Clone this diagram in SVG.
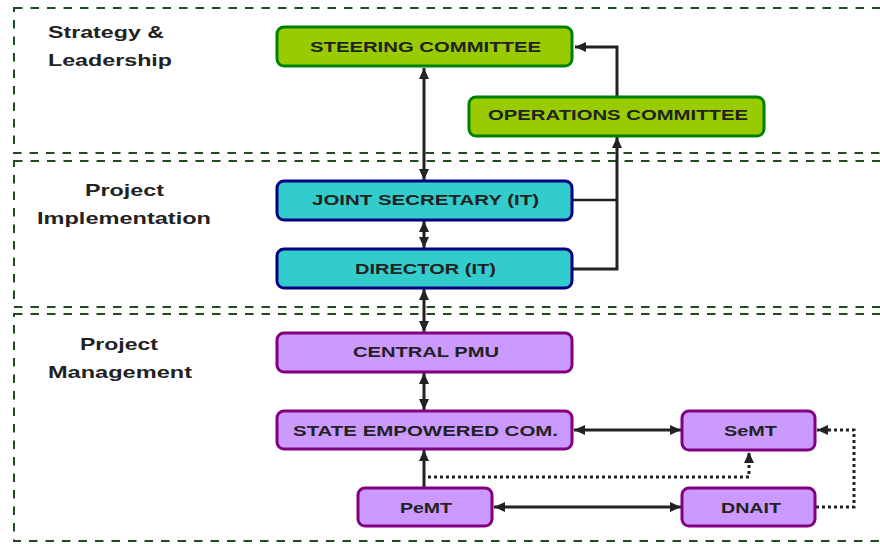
<svg xmlns="http://www.w3.org/2000/svg" width="880" height="544" viewBox="0 0 880 544">
<style>
.layer{fill:none;stroke:#1e4d1e;stroke-width:2;stroke-dasharray:8.5 8}
.lbl{font-family:"Liberation Sans",Arial,sans-serif;font-weight:bold;font-size:17px;fill:#222}
.t{font-family:"Liberation Sans",Arial,sans-serif;font-weight:bold;font-size:15px;fill:#222}
.g{fill:#99cc00;stroke:#008000;stroke-width:3}
.c{fill:#33cccc;stroke:#000080;stroke-width:3}
.p{fill:#cc99ff;stroke:#800080;stroke-width:3}
.ln{fill:none;stroke:#222;stroke-width:3}
.thin{fill:none;stroke:#222;stroke-width:2.5}
.dot{fill:none;stroke:#222;stroke-width:3;stroke-dasharray:3 3}
</style>
<defs>
<marker id="ah" markerUnits="userSpaceOnUse" markerWidth="11" markerHeight="10" viewBox="0 0 11 10" refX="11" refY="5" orient="auto-start-reverse">
<path d="M0,0 L11,5 L0,10 z" fill="#222"/>
</marker>
</defs>
<rect width="880" height="544" fill="#fff"/>
<g id="layers">
<rect class="layer" x="14" y="8" width="880" height="145"/>
<rect class="layer" x="14" y="161" width="880" height="146"/>
<rect class="layer" x="14" y="314" width="880" height="227"/>
<text class="lbl" x="48" y="38" textLength="116" lengthAdjust="spacingAndGlyphs">Strategy &amp;</text>
<text class="lbl" x="48" y="66" textLength="124" lengthAdjust="spacingAndGlyphs">Leadership</text>
<text class="lbl" x="85" y="196" textLength="79" lengthAdjust="spacingAndGlyphs">Project</text>
<text class="lbl" x="37" y="224" textLength="174" lengthAdjust="spacingAndGlyphs">Implementation</text>
<text class="lbl" x="80" y="350" textLength="78" lengthAdjust="spacingAndGlyphs">Project</text>
<text class="lbl" x="48" y="378" textLength="144" lengthAdjust="spacingAndGlyphs">Management</text>
</g>
<g id="connectors">
<line class="ln" x1="424" y1="68" x2="424" y2="180" marker-start="url(#ah)" marker-end="url(#ah)"/>
<line class="ln" x1="424" y1="221" x2="424" y2="248" marker-start="url(#ah)" marker-end="url(#ah)"/>
<line class="ln" x1="424" y1="289" x2="424" y2="332" marker-start="url(#ah)" marker-end="url(#ah)"/>
<line class="ln" x1="424" y1="373" x2="424" y2="410" marker-start="url(#ah)" marker-end="url(#ah)"/>
<line class="ln" x1="424" y1="488" x2="424" y2="450" marker-end="url(#ah)"/>
<polyline class="ln" points="617,97 617,47 575,47" marker-end="url(#ah)"/>
<polyline class="thin" points="573,200 617,200"/>
<polyline class="ln" points="573,269 617,269 617,137" marker-end="url(#ah)"/>
<line class="ln" x1="574" y1="430" x2="681" y2="430" marker-start="url(#ah)" marker-end="url(#ah)"/>
<line class="ln" x1="494" y1="507" x2="681" y2="507" marker-start="url(#ah)" marker-end="url(#ah)"/>
<polyline class="dot" points="428,477 749,477 749,452" marker-end="url(#ah)"/>
<polyline class="dot" points="816,507 854,507 854,430 817,430" marker-end="url(#ah)"/>
</g>
<g id="steering"><rect class="g" x="277" y="27" width="295" height="39" rx="7"/><text class="t" x="310" y="52" textLength="231" lengthAdjust="spacingAndGlyphs">STEERING COMMITTEE</text></g>
<g id="operations"><rect class="g" x="469" y="97" width="295" height="39" rx="7"/><text class="t" x="488" y="120" textLength="260" lengthAdjust="spacingAndGlyphs">OPERATIONS COMMITTEE</text></g>
<g id="joint-secretary"><rect class="c" x="277" y="181" width="295" height="39" rx="7"/><text class="t" x="312" y="205" textLength="227" lengthAdjust="spacingAndGlyphs">JOINT SECRETARY (IT)</text></g>
<g id="director"><rect class="c" x="277" y="249" width="295" height="39" rx="7"/><text class="t" x="355" y="274" textLength="141" lengthAdjust="spacingAndGlyphs">DIRECTOR (IT)</text></g>
<g id="central-pmu"><rect class="p" x="277" y="333" width="295" height="39" rx="7"/><text class="t" x="353" y="357" textLength="146" lengthAdjust="spacingAndGlyphs">CENTRAL PMU</text></g>
<g id="state-empowered"><rect class="p" x="277" y="411" width="295" height="38" rx="7"/><text class="t" x="293" y="436" textLength="265" lengthAdjust="spacingAndGlyphs">STATE EMPOWERED COM.</text></g>
<g id="pemt"><rect class="p" x="358" y="488" width="134" height="38" rx="7"/><text class="t" x="400" y="513" textLength="52" lengthAdjust="spacingAndGlyphs">PeMT</text></g>
<g id="semt"><rect class="p" x="682" y="411" width="133" height="39" rx="7"/><text class="t" x="724" y="436" textLength="53" lengthAdjust="spacingAndGlyphs">SeMT</text></g>
<g id="dnait"><rect class="p" x="682" y="488" width="133" height="38" rx="7"/><text class="t" x="721" y="513" textLength="60" lengthAdjust="spacingAndGlyphs">DNAIT</text></g>
</svg>
